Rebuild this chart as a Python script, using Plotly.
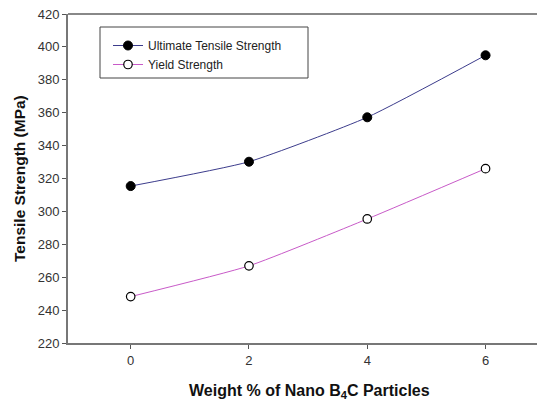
import plotly.graph_objects as go

x_wt = [0, 2, 4, 6]
uts = [315.4, 330.2, 357.2, 394.9]
ys = [248.2, 266.9, 295.4, 326.0]
y_ticks = [220, 240, 260, 280, 300, 320, 340, 360, 380, 400, 420]
x_ticks = [0, 2, 4, 6]

W, H = 537, 404
L, R, T, B = 68, 0, 14, 61
pw, ph = W - L - R, H - T - B

fig = go.Figure()
fig.add_trace(go.Scatter(
    x=x_wt, y=uts, mode="lines+markers", name="Ultimate Tensile Strength",
    line=dict(color="#3c3c8c", width=1, shape="spline", smoothing=0.5),
    marker=dict(symbol="circle", size=9, color="black", line=dict(color="black", width=1)),
))
fig.add_trace(go.Scatter(
    x=x_wt, y=ys, mode="lines+markers", name="Yield Strength",
    line=dict(color="#c85ac8", width=1, shape="spline", smoothing=0.5),
    marker=dict(symbol="circle", size=8.5, color="white", line=dict(color="black", width=1.2)),
))

font_family = "Liberation Sans, Arial, sans-serif"

def px_x(p):
    return (p - L) / pw

def px_y(p):
    return (H - B - p) / ph

fig.update_layout(
    width=W, height=H,
    margin=dict(l=L, r=R, t=T, b=B, autoexpand=False),
    paper_bgcolor="white", plot_bgcolor="white",
    font=dict(family=font_family, size=12, color="#222"),
    showlegend=True,
    legend=dict(
        x=px_x(108), y=px_y(31), xanchor="left", yanchor="top",
        borderwidth=0, bgcolor="rgba(0,0,0,0)",
        font=dict(size=12, color="#222"),
        tracegroupgap=0, itemwidth=30,
    ),
    xaxis=dict(
        range=[-1.06, 6.87], tickvals=x_ticks, ticktext=[str(v) for v in x_ticks],
        showline=True, linecolor="#777", linewidth=2, mirror=False,
        ticks="outside", ticklen=4, tickcolor="#555", tickwidth=1,
        showgrid=False, zeroline=False, automargin=False,
        tickfont=dict(size=13, color="#333"),
    ),
    yaxis=dict(
        range=[220, 420], tickvals=y_ticks,
        showline=True, linecolor="#777", linewidth=2, mirror=False,
        ticks="outside", ticklen=4, tickcolor="#555", tickwidth=1,
        showgrid=False, zeroline=False, automargin=False,
        tickfont=dict(size=13, color="#333"),
    ),
    annotations=[
        dict(text="<b>Weight % of Nano B<sub>4</sub>C Particles</b>", xref="paper", yref="paper",
             x=px_x(309), y=px_y(391), xanchor="center", yanchor="middle", showarrow=False,
             font=dict(size=16, color="#111")),
        dict(text="<b>Tensile Strength (MPa)</b>", xref="paper", yref="paper",
             x=px_x(19), y=px_y(179), xanchor="center", yanchor="middle", showarrow=False,
             textangle=-90, font=dict(size=15.5, color="#111")),
    ],
)
# top border line
fig.add_shape(type="line", xref="paper", yref="paper", x0=0, x1=1, y0=1, y1=1,
              line=dict(color="#888", width=2))
# legend box
fig.add_shape(type="rect", xref="paper", yref="paper",
              x0=px_x(100), x1=px_x(308), y0=px_y(78), y1=px_y(27),
              line=dict(color="#444", width=1), fillcolor="rgba(0,0,0,0)")

fig.write_html("out.html", config={"displayModeBar": False},
               post_script="document.body.style.margin='0';document.body.style.overflow='hidden';")
